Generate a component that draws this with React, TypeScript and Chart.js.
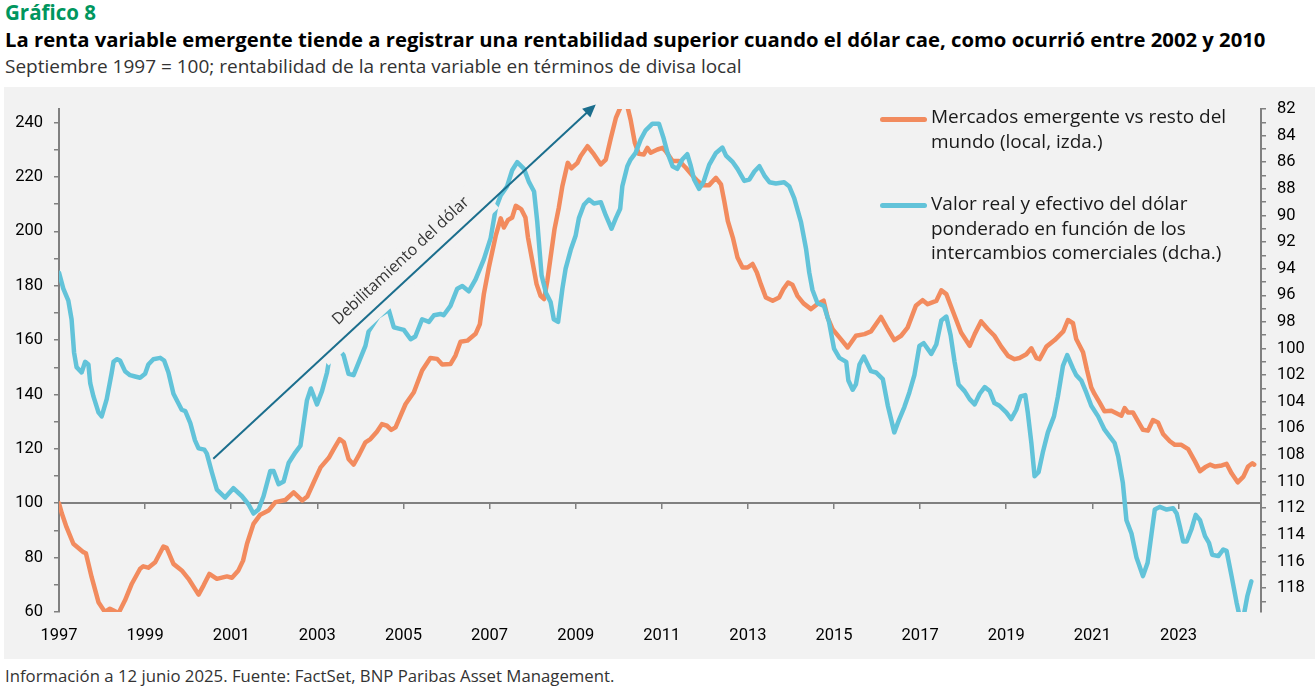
import React, { useEffect, useRef } from "react";
import { Chart, registerables } from "chart.js";

Chart.register(...registerables);

// ---- Data (months since September 1997 = 0) ----
const emMonths = [0, 0.8, 2.1, 4, 6.8, 7.5, 9.1, 11, 12.8, 14.2, 16.6, 18.4, 20.3, 22.6, 23.5, 24.9, 26.8, 29.1, 30, 31.9, 34.2, 36.1, 38.9, 40.3, 41.9, 44, 46.8, 48.2, 50, 51.3, 52.4, 54.2, 56.1, 58.4, 60.3, 63.1, 65.4, 67.8, 69.2, 71, 72.9, 75.2, 76.6, 78.2, 79.4, 80.7, 82.1, 83.5, 85.4, 86.8, 88.6, 90, 91.4, 92.6, 93.8, 95.2, 96.6, 98.9, 101.2, 103.5, 105.4, 106.8, 109.1, 110.5, 111.9, 113.8, 116.1, 117.3, 118.4, 119.8, 121.7, 123.1, 124, 125.1, 126.3, 127.3, 128.8, 130, 130.7, 131.9, 133.1, 134.2, 135.2, 136.1, 137, 138.1, 139.3, 140.3, 141.8, 142.8, 144.5, 145.4, 147.3, 149.1, 151, 152.4, 153.8, 155.2, 156.6, 158.4, 159.3, 160.5, 161.6, 163, 164, 164.9, 166.8, 168.2, 169.1, 171, 172.8, 174.7, 176.6, 178, 179.4, 181.2, 183.1, 184.5, 185.4, 186.4, 187.8, 189.1, 190.5, 191.9, 193.3, 194.5, 195.6, 197, 198.9, 200.7, 201.9, 203.2, 204.4, 205.8, 207.5, 209.6, 211.4, 213.1, 214.2, 215.6, 217.5, 219.8, 222.1, 224.5, 226.3, 229.1, 231, 232.8, 234.7, 236.5, 238.8, 240.7, 242.1, 244.5, 245.9, 247.3, 249.1, 251.4, 253.8, 255.2, 257, 258.9, 260.7, 262.6, 264.5, 266.3, 267.7, 269.6, 271, 272.4, 273.3, 275.2, 277.5, 279.9, 281.2, 282.6, 283.5, 285.4, 286.5, 287.7, 288.6, 290, 291.4, 293.3, 296.1, 297, 297.9, 299.3, 302.1, 303.5, 304.9, 306.3, 307.7, 309.6, 311, 312.8, 314.7, 316.6, 318, 319.4, 320.8, 322.2, 324.1, 325.4, 326.8, 328.5, 330.1, 331.4, 332.6, 333.1];
const emValues = [100, 96.2, 91.2, 85.1, 82.0, 81.6, 72.8, 63.6, 60.0, 61.2, 59.6, 64.3, 70.4, 75.9, 76.8, 76.3, 78.3, 84.1, 83.6, 77.7, 75.3, 72.2, 66.4, 69.8, 74.0, 72.2, 73.1, 72.6, 75.3, 78.9, 85.1, 92.4, 95.8, 97.3, 100.4, 101.2, 104.0, 101.0, 102.5, 107.7, 113.2, 116.7, 120.0, 123.6, 122.4, 116.3, 114.2, 117.5, 122.4, 123.6, 126.3, 129.1, 128.5, 127.0, 127.9, 132.2, 136.5, 140.8, 148.8, 153.4, 153.1, 151.0, 151.2, 154.3, 159.4, 159.8, 162.3, 165.9, 176.9, 186.7, 198.3, 204.8, 201.4, 204.1, 205.1, 209.4, 208.2, 205.1, 197.8, 189.2, 180.6, 176.3, 175.1, 181.8, 190.4, 200.8, 208.7, 216.7, 225.2, 223.2, 225.2, 227.7, 231.3, 228.3, 224.6, 226.4, 234.3, 241.7, 246.0, 246.0, 241.1, 232.5, 228.5, 228.3, 230.7, 228.9, 230.1, 230.7, 229.5, 225.9, 225.9, 223.4, 220.4, 218.5, 217.0, 217.0, 219.7, 217.3, 211.2, 203.8, 197.7, 190.4, 186.7, 186.7, 188.0, 184.9, 180.6, 175.7, 174.5, 175.7, 178.8, 181.2, 180.4, 176.3, 173.5, 171.4, 173.3, 174.5, 168.4, 164.0, 161.0, 157.3, 161.6, 162.2, 163.2, 168.5, 164.0, 160.0, 161.6, 164.6, 172.6, 174.7, 173.2, 174.4, 178.3, 176.9, 170.7, 162.8, 157.9, 162.2, 166.9, 164.0, 161.6, 157.6, 154.2, 153.0, 153.4, 154.8, 157.0, 153.4, 153.0, 157.6, 160.0, 163.2, 167.4, 166.2, 160.4, 155.5, 149.0, 142.6, 140.2, 137.1, 133.8, 134.0, 132.2, 135.0, 133.4, 133.4, 127.0, 126.7, 130.6, 129.7, 125.5, 122.8, 121.5, 121.5, 119.9, 115.4, 111.8, 113.2, 114.2, 113.5, 113.9, 114.5, 111.0, 107.7, 109.8, 113.5, 114.7, 114.2];

const usdMonths = [0, 1.2, 2.6, 3.5, 4.2, 4.9, 6.3, 7.3, 8.2, 8.7, 9.6, 11, 11.9, 13.3, 14.7, 15.2, 16.1, 17, 18.4, 19.8, 21.2, 22.6, 24, 24.9, 26.3, 28.2, 29.3, 30.5, 31.9, 34.2, 35.2, 36.6, 37.9, 38.9, 40.5, 41.2, 42.6, 44, 46.3, 48.6, 51, 52.8, 54.2, 55.6, 57, 58.9, 59.8, 61.2, 62.6, 64, 65.9, 67.3, 68.2, 69.1, 70.2, 71.9, 73.3, 74.7, 75.2, 77.2, 79.3, 80.7, 82.1, 83.9, 85.4, 86.3, 89, 91.9, 93.3, 94.7, 96.1, 98, 99.3, 101.2, 103.1, 104.5, 106.3, 107.2, 109.1, 111, 112.4, 114.2, 116.1, 118.4, 120.3, 121.7, 123.1, 124.9, 126.3, 127.7, 129.6, 131, 132.4, 133.3, 134.5, 135.7, 137, 137.9, 139.1, 140.3, 141.2, 142.6, 144, 144.9, 146.3, 147.7, 149.1, 151, 152.4, 154, 155.2, 156.4, 157, 158.4, 159.3, 160.7, 162.1, 163.5, 165.4, 167.2, 168.4, 169.6, 171, 172.3, 173.7, 175.1, 176, 177, 178.4, 179.6, 181.2, 183.1, 184.9, 185.9, 187.8, 189.1, 191, 192.4, 193.8, 195.2, 196.6, 198, 199.8, 202.1, 203.5, 204.9, 206.8, 208.2, 209.1, 210, 211.4, 213.2, 214.6, 216, 217.5, 219.4, 220, 221.2, 222.1, 223.1, 224.3, 226.3, 227.7, 229.6, 231, 232.8, 234.2, 235.6, 237, 238.4, 239.8, 241, 243.1, 244.5, 245.9, 247.3, 248.5, 249.6, 250.7, 252.4, 253.8, 255.2, 256.6, 258, 259.4, 260.7, 262.1, 264, 265.4, 266.8, 268, 269.3, 270, 271, 271.9, 273, 274.2, 275.6, 277.3, 278.4, 279.8, 281, 282.6, 283.5, 284.9, 286.3, 287.7, 289.6, 291.4, 292.8, 294.2, 295.2, 296.5, 297.5, 298.9, 300.3, 302.1, 303.4, 304.5, 305.4, 306.8, 308.7, 310.5, 311.5, 312.4, 313.3, 314.3, 315.6, 316.8, 318, 319.4, 320.5, 321.4, 323.1, 324.5, 325.4, 326.8, 328.2, 329.1, 330.1, 331.2, 332.3];
const usdValues = [94.3, 95.5, 96.4, 97.8, 100.3, 101.4, 101.8, 101.0, 101.2, 102.6, 103.6, 104.8, 105.1, 103.8, 101.8, 101.0, 100.8, 100.9, 101.7, 102.0, 102.1, 102.2, 101.9, 101.2, 100.8, 100.7, 100.9, 101.8, 103.4, 104.6, 104.7, 105.6, 106.9, 107.5, 107.6, 107.9, 109.3, 110.6, 111.2, 110.5, 111.1, 111.7, 112.4, 112.1, 111.1, 109.2, 109.2, 110.2, 110.0, 108.6, 107.8, 107.3, 105.6, 103.9, 103.0, 104.2, 103.2, 101.8, 101.0, 99.8, 100.5, 101.9, 102.0, 100.8, 99.8, 98.7, 97.6, 97.1, 98.4, 98.5, 98.6, 99.3, 99.1, 97.8, 98.0, 97.5, 97.4, 97.5, 96.8, 95.5, 95.3, 95.7, 94.8, 93.3, 91.7, 89.5, 88.5, 87.8, 86.6, 86.0, 86.5, 87.5, 88.2, 90.5, 94.5, 95.8, 96.5, 97.8, 98.0, 95.5, 94.0, 92.6, 91.5, 90.2, 89.2, 88.8, 89.1, 89.0, 90.0, 91.0, 90.2, 89.5, 87.8, 86.3, 85.8, 85.3, 84.3, 83.6, 83.1, 83.1, 84.1, 85.3, 86.3, 86.5, 85.8, 85.4, 86.2, 87.3, 88.0, 87.5, 86.2, 85.3, 84.9, 85.5, 86.0, 86.5, 87.4, 87.3, 86.7, 86.3, 87.0, 87.5, 87.6, 87.5, 87.8, 88.7, 90.5, 92.5, 94.3, 95.6, 96.6, 96.8, 98.0, 100.0, 100.7, 101.0, 102.4, 103.1, 102.7, 101.2, 100.6, 101.7, 101.8, 102.3, 104.3, 106.3, 105.3, 104.4, 103.3, 102.0, 99.8, 99.6, 100.4, 99.7, 97.9, 97.6, 99.0, 101.0, 102.7, 103.2, 103.8, 104.2, 103.4, 102.9, 103.2, 104.1, 104.3, 104.8, 105.3, 104.6, 103.6, 103.5, 104.8, 107.1, 109.6, 109.3, 107.8, 106.3, 105.1, 103.6, 101.3, 100.5, 101.5, 102.0, 102.4, 103.3, 104.3, 105.1, 106.1, 106.6, 107.1, 108.1, 110.1, 112.9, 113.9, 115.7, 117.1, 116.1, 113.9, 112.1, 111.9, 112.1, 112.0, 112.4, 113.4, 114.5, 114.5, 113.6, 112.5, 112.9, 114.1, 114.6, 115.5, 115.6, 115.1, 115.2, 117.1, 119.1, 120.2, 120.2, 118.6, 117.5];

const xTickLabels = ["1997", "1999", "2001", "2003", "2005", "2007", "2009", "2011", "2013", "2015", "2017", "2019", "2021", "2023"];
const seriesLabels = [
  "Mercados emergente vs resto del mundo (local, izda.)",
  "Valor real y efectivo del dólar ponderado en función de los intercambios comerciales (dcha.)",
];
// arrow: [month, left-axis value]
const arrowStart = [43, 116.4];
const arrowEnd = [149.6, 246.7];
const arrowLabel = "Debilitamiento del dólar";

const ORANGE = "#F28B5E";
const BLUE = "#62C3D9";
const ARROW = "#1B6E8D";
const BG = "#F2F2F2";
const AXIS = "#808080";
const TICK_FONT = { family: "Roboto, 'Liberation Sans', sans-serif", size: 16.5 };
const TEXT_FONT = "'Open Sans', 'Noto Sans', sans-serif";

const annotationPlugin = {
  id: "dollarArrow",
  afterDatasetsDraw(chart: any) {
    const { ctx, scales } = chart;
    const x0 = scales.x.getPixelForValue(arrowStart[0]);
    const y0 = scales.y.getPixelForValue(arrowStart[1]);
    const x1 = scales.x.getPixelForValue(arrowEnd[0]);
    const y1 = scales.y.getPixelForValue(arrowEnd[1]);
    const ang = Math.atan2(y1 - y0, x1 - x0);
    const len = Math.hypot(x1 - x0, y1 - y0);
    ctx.save();
    ctx.translate(x0, y0);
    ctx.rotate(ang);
    // text box background
    ctx.fillStyle = BG;
    ctx.fillRect(148, -30, 232, 40);
    // arrow shaft
    const head = 13;
    ctx.strokeStyle = ARROW;
    ctx.lineWidth = 2;
    ctx.beginPath();
    ctx.moveTo(0, 0);
    ctx.lineTo(len - head + 1, 0);
    ctx.stroke();
    ctx.fillStyle = ARROW;
    ctx.beginPath();
    ctx.moveTo(len, 0);
    ctx.lineTo(len - head, -6);
    ctx.lineTo(len - head, 6);
    ctx.closePath();
    ctx.fill();
    // label
    ctx.fillStyle = "#333333";
    ctx.font = "16px 'Open Sans', sans-serif";
    ctx.textAlign = "center";
    ctx.textBaseline = "alphabetic";
    ctx.fillText(arrowLabel, 272, -13);
    ctx.restore();
  },
};

export default function App() {
  const canvasRef = useRef<HTMLCanvasElement | null>(null);

  useEffect(() => {
    document.body.style.margin = "0";
    const canvas = canvasRef.current;
    if (!canvas) return;
    const em = emMonths.map((m, i) => ({ x: m, y: emValues[i] }));
    const usd = usdMonths.map((m, i) => ({ x: m, y: usdValues[i] }));
    const chart = new Chart(canvas, {
      type: "line",
      data: {
        datasets: [
          {
            label: seriesLabels[1],
            data: usd,
            yAxisID: "y2",
            xAxisID: "x",
            borderColor: BLUE,
            backgroundColor: BLUE,
            borderWidth: 4.5,
            pointRadius: 0,
            tension: 0,
            borderJoinStyle: "round",
            borderCapStyle: "round",
            clip: 0,
          },
          {
            label: seriesLabels[0],
            data: em,
            yAxisID: "y",
            xAxisID: "x",
            borderColor: ORANGE,
            backgroundColor: ORANGE,
            borderWidth: 4.5,
            pointRadius: 0,
            tension: 0,
            borderJoinStyle: "round",
            borderCapStyle: "round",
            clip: 0,
          },
        ],
      },
      options: {
        animation: false,
        responsive: false,
        layout: { padding: { top: 22, left: 0, right: 0, bottom: 0 } },
        plugins: { legend: { display: false }, tooltip: { enabled: false } },
        scales: {
          x: {
            type: "linear",
            position: "bottom",
            min: 0,
            max: 335,
            border: { display: false },
            grid: { display: false },
            ticks: {
              stepSize: 24,
              includeBounds: false,
              autoSkip: false,
              maxRotation: 0,
              padding: 6,
              color: "#000",
              font: TICK_FONT,
              callback: (v: any) => xTickLabels[Math.round(Number(v) / 24)] ?? "",
            },
            afterFit: (s: any) => {
              s.height = 47;
            },
          },
          xline: {
            type: "linear",
            axis: "x",
            position: { y: 100 } as any,
            min: 0,
            max: 335,
            border: { display: true, color: AXIS, width: 2 },
            grid: { display: true, drawOnChartArea: false, drawTicks: true, tickLength: 5, color: AXIS, lineWidth: 1.5 },
            ticks: { display: false, stepSize: 24, includeBounds: false, autoSkip: false },
          },
          y: {
            type: "linear",
            position: "left",
            min: 60,
            max: 245,
            border: { display: true, color: AXIS, width: 2 },
            grid: { display: true, drawOnChartArea: false, drawTicks: true, tickLength: 5, color: AXIS, lineWidth: 1.5 },
            ticks: {
              stepSize: 10,
              includeBounds: false,
              autoSkip: false,
              padding: 11,
              color: "#000",
              font: TICK_FONT,
              callback: (v: any) => (Number(v) % 20 === 0 ? String(v) : ""),
            },
            afterFit: (s: any) => {
              s.width = 55;
            },
          },
          y2: {
            type: "linear",
            position: "right",
            reverse: true,
            min: 82,
            max: 119.8,
            border: { display: true, color: AXIS, width: 2 },
            grid: { display: true, drawOnChartArea: false, drawTicks: true, tickLength: 5, color: AXIS, lineWidth: 1.5 },
            ticks: {
              stepSize: 1,
              includeBounds: false,
              autoSkip: false,
              padding: 11,
              color: "#000",
              font: TICK_FONT,
              callback: (v: any) => (Number(v) % 2 === 0 ? String(v) : ""),
            },
            afterFit: (s: any) => {
              s.width = 54;
            },
          },
        },
      } as any,
      plugins: [annotationPlugin],
    });
    return () => chart.destroy();
  }, []);

  const legendText: React.CSSProperties = {
    position: "absolute",
    left: 931,
    fontFamily: TEXT_FONT,
    fontSize: 19,
    lineHeight: "24.5px",
    color: "#1a1a1a",
    width: 360,
    whiteSpace: "nowrap",
  };
  const legendLine = (color: string, top: number): React.CSSProperties => ({
    position: "absolute",
    left: 880,
    top,
    width: 47,
    height: 5,
    borderRadius: 3,
    background: color,
  });

  return (
    <div style={{ position: "relative", width: 1315, height: 690, background: "#fff", overflow: "hidden", fontFamily: TEXT_FONT }}>
      <div style={{ position: "absolute", left: 5, top: 0, fontSize: 20.5, fontWeight: 700, color: "#00965E", lineHeight: "24px" }}>Gráfico 8</div>
      <div style={{ position: "absolute", left: 5, top: 27, fontSize: 20.25, fontWeight: 700, color: "#000", lineHeight: "24px", whiteSpace: "nowrap" }}>
        La renta variable emergente tiende a registrar una rentabilidad superior cuando el dólar cae, como ocurrió entre 2002 y 2010
      </div>
      <div style={{ position: "absolute", left: 5, top: 54, fontSize: 19, fontWeight: 400, color: "#333", lineHeight: "24px", whiteSpace: "nowrap" }}>
        Septiembre 1997 = 100; rentabilidad de la renta variable en términos de divisa local
      </div>
      <div style={{ position: "absolute", left: 4, top: 87, width: 1311, height: 572, background: BG }}>
        <canvas ref={canvasRef} width={1311} height={572} style={{ display: "block" }} />
      </div>
      <div style={legendLine(ORANGE, 117)} />
      <div style={{ ...legendText, top: 104 }}>
        Mercados emergente vs resto del
        <br />
        mundo (local, izda.)
      </div>
      <div style={legendLine(BLUE, 203)} />
      <div style={{ ...legendText, top: 191 }}>
        Valor real y efectivo del dólar
        <br />
        ponderado en función de los
        <br />
        intercambios comerciales (dcha.)
      </div>
      <div style={{ position: "absolute", left: 5, top: 665, fontSize: 16.75, color: "#333", lineHeight: "22px", whiteSpace: "nowrap" }}>
        Información a 12 junio 2025. Fuente: FactSet, BNP Paribas Asset Management.
      </div>
    </div>
  );
}
